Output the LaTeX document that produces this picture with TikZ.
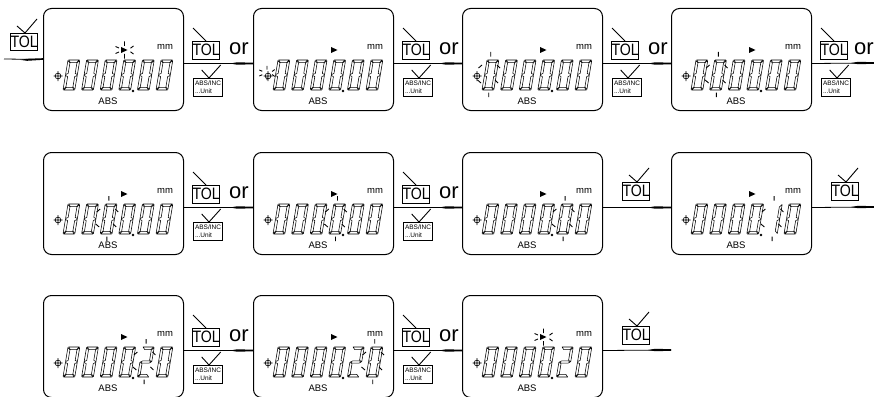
\documentclass[tikz,border=0pt]{standalone}
\usepackage{fontspec}
\usepackage{graphicx}
\setmainfont{Liberation Sans}
\tikzset{
  x=1pt,y=-1pt,
  panelbox/.style={draw,line width=1pt,rounded corners=8pt,minimum width=140pt,minimum height=102pt,anchor=north west,inner sep=0pt},
  smalltext/.style={inner sep=0pt,font=\fontsize{9.5}{10}\selectfont},
  keybox/.style={draw,line width=1pt,anchor=north west,inner sep=0pt},
  tolbox/.style={keybox,minimum width=26.5pt,minimum height=17.5pt,font=\fontsize{16.5}{16.5}\selectfont},
  absbox/.style={keybox,align=left,minimum width=29pt,minimum height=18pt,font=\fontsize{6.5}{8}\selectfont},
  ortext/.style={inner sep=0pt,font=\fontsize{22}{22}\selectfont},
  segline/.style={line width=.55pt,line join=round},
  tickline/.style={line width=.9pt},
  strokeline/.style={line width=.9pt},
  linkline/.style={line width=.8pt}
}
% segments (y up, slanted local frame)
\newcommand\segA{\draw[segline] (.6,30)--(11.3,30)--(9,27.4)--(2.8,27.4)--cycle;}
\newcommand\segD{\draw[segline] (.6,0)--(11.3,0)--(9,2.6)--(2.8,2.6)--cycle;}
\newcommand\segF{\draw[segline] (0,29.5)--(2.4,27)--(2.4,16.6)--(0,15.4)--cycle;}
\newcommand\segE{\draw[segline] (0,14.6)--(2.4,13.4)--(2.4,3)--(0,.5)--cycle;}
\newcommand\segB{\draw[segline] (11.8,29.5)--(9.4,27)--(9.4,16.6)--(11.8,15.4)--cycle;}
\newcommand\segC{\draw[segline] (11.8,14.6)--(9.4,13.4)--(9.4,3)--(11.8,.5)--cycle;}
\newcommand\segG{\draw[segline] (.5,15)--(2.7,16.2)--(9.1,16.2)--(11.3,15)--(9.1,13.8)--(2.7,13.8)--cycle;}
\newcommand\glyphzero{\segA\segB\segC\segD\segE\segF}
\newcommand\glyphone{\segB\segC}
\newcommand\glyphtwo{\segA\segB\segG\segE\segD}
\newcommand\digitrow[3]{%
  \foreach \dg [count=\di from 0] in {#3}{%
    \begin{scope}[shift={({#1+20+18.6*\di},{#2+82})},x=1pt,y=1pt,xslant=.167]
      \ifcase\dg\relax\glyphzero\or\glyphone\or\glyphtwo\fi
    \end{scope}}%
  \fill ({#1+90},{#2+83}) circle (1.4pt);}
\newcommand\blinkmarks[3]{%
  \begin{scope}[shift={({#1+20+18.6*(#3-1)},{#2+82})}]
    \draw[tickline] (8.7,-38)--(8.7,-33.5) (6.7,2.5)--(6.7,7)
      (-3.5,-22)--(0,-25) (-4.5,-10)--(-1,-7) (15,-25)--(18,-22) (13,-10)--(16,-7);
  \end{scope}}
\newcommand\rays[3]{%
  \begin{scope}[shift={(#1,#2)},scale=#3]
    \draw[strokeline] (0,-8.5)--(0,-4) (0,4)--(0,8.5) (-9,-3.5)--(-5.5,-2) (-9,3.5)--(-5.5,2) (6,-1.8)--(9,-4) (6,1.8)--(9,4);
  \end{scope}}
\newcommand\pointer[2]{\fill ({#1+78},{#2+39})--({#1+84.5},{#2+42})--({#1+78},{#2+45})--cycle;}
\newcommand\signmark[2]{%
  \begin{scope}[shift={({#1+15},{#2+68})}]
    \draw[line width=.6pt] (-4.5,0)--(4.5,0) (0,-5)--(0,5) (0,0) circle (2.9pt);
  \end{scope}}
\newcommand\panel[3]{%
  \node[panelbox] (#1) at (#2,#3) {};
  \node[smalltext] (#1mm) at ({#2+122},{#3+38.5}) {mm};
  \node[smalltext] (#1abs) at ({#2+65},{#3+93.5}) {ABS};
  \signmark{#2}{#3}}
\newcommand\slashtol[3]{%
  \node[tolbox] (#1) at (#2,#3) {\scalebox{.86}[1]{TOL}};
  \draw[strokeline] ({#2+1},{#3-13})--({#2+14},{#3});}
\newcommand\checktol[3]{%
  \node[tolbox] (#1) at (#2,#3) {\scalebox{.86}[1]{TOL}};
  \draw[strokeline] ({#2+7},{#3-7})--({#2+15},{#3})--({#2+27},{#3-14});}
\newcommand\orstep[4]{% name, right edge, top, offset of the word
  \slashtol{#1t}{#2+9}{#3+33}
  \node[ortext] (#1or) at ({#2+#4},{#3+41}) {or};
  \node[absbox] (#1a) at ({#2+10},{#3+70}) {ABS/INC\\...Unit};
  \draw[strokeline] ({#2+18.7},{#3+62})--({#2+26},{#3+70})--({#2+37.7},{#3+57});}
\newcommand\linkarrow[2]{% from, to (connector runs 4pt under the centre line)
  \draw[linkline] ([yshift=-4pt]#1.east)--([yshift=-4pt]#2.west);
  \fill ([xshift=-23pt,yshift=-4pt]#2.west)--([xshift=-16pt,yshift=-2.8pt]#2.west)--([yshift=-3.2pt]#2.west)--([yshift=-4.8pt]#2.west)--([xshift=-16pt,yshift=-5.2pt]#2.west)--cycle;}
\begin{document}
\begin{tikzpicture}
\useasboundingbox (0,0) rectangle (874,396);
\clip (0,0) rectangle (874,396);
% row 1
\panel{a}{43}{8}\panel{b}{253}{8}\panel{c}{462}{8}\panel{d}{671}{8}
% row 2
\panel{e}{43}{152}\panel{f}{253}{152}\panel{g}{462}{152}\panel{h}{671}{152}
% row 3
\panel{i}{43}{295}\panel{j}{253}{295}\panel{k}{462}{295}
% displays
\digitrow{43}{8}{0,0,0,0,0,0}\digitrow{253}{8}{0,0,0,0,0,0}\digitrow{462}{8}{0,0,0,0,0,0}\digitrow{671}{8}{0,0,0,0,0,0}
\digitrow{43}{152}{0,0,0,0,0,0}\digitrow{253}{152}{0,0,0,0,0,0}\digitrow{462}{152}{0,0,0,0,0,0}\digitrow{671}{152}{0,0,0,0,1,0}
\digitrow{43}{295}{0,0,0,0,2,0}\digitrow{253}{295}{0,0,0,0,2,0}\digitrow{462}{295}{0,0,0,0,2,0}
\foreach \px/\py in {43/8,253/8,462/8,671/8,43/152,253/152,462/152,671/152,43/295,253/295,462/295}{\pointer{\px}{\py}}
\rays{124.5}{50}{1}\rays{267}{73}{.85}\rays{543.5}{337}{1}
\blinkmarks{462}{8}{1}\blinkmarks{671}{8}{2}
\blinkmarks{43}{152}{3}\blinkmarks{253}{152}{4}\blinkmarks{462}{152}{5}\blinkmarks{671}{152}{5}
\blinkmarks{43}{295}{5}\blinkmarks{253}{295}{6}
% keys
\checktol{start}{10}{33}
\orstep{ab}{183}{8}{56}\orstep{bc}{393}{8}{56}\orstep{cd}{602}{8}{56}\orstep{dout}{811}{8}{53}
\orstep{ef}{183}{152}{56}\orstep{fg}{393}{152}{56}
\checktol{gh}{622}{182}\checktol{hout}{831}{182}
\orstep{ij}{183}{295}{56}\orstep{jk}{393}{295}{56}
\checktol{kout}{622}{326}
% connectors
\coordinate (in) at (4,59);
\coordinate (outa) at (874,59);
\coordinate (outb) at (874,203);
\coordinate (outc) at (671,346);
\draw[linkline] (in)--(a.west);
\fill (20,59.8)--(27,58.8)--(43,58.2)--(43,59.8)--(27,60.8)--cycle;
\linkarrow{a}{b}\linkarrow{b}{c}\linkarrow{c}{d}\linkarrow{d}{outa}
\linkarrow{e}{f}\linkarrow{f}{g}\linkarrow{g}{h}\linkarrow{h}{outb}
\linkarrow{i}{j}\linkarrow{j}{k}\linkarrow{k}{outc}
\end{tikzpicture}
\end{document}
